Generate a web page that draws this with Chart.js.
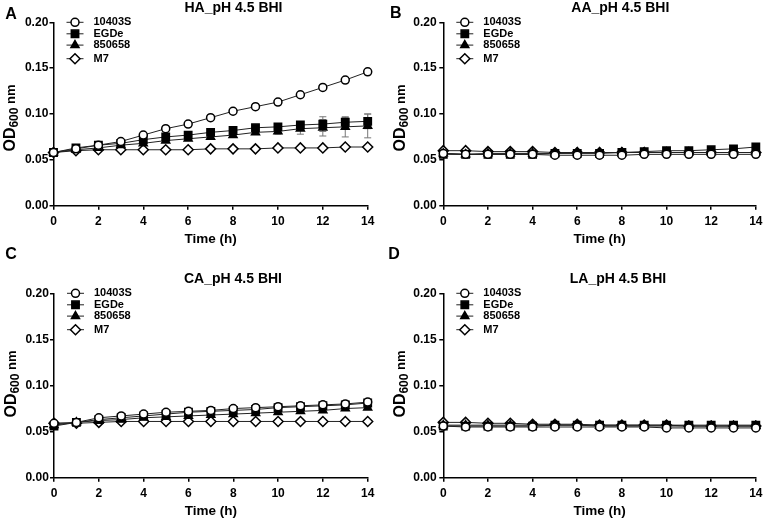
<!DOCTYPE html>
<html><head><meta charset="utf-8">
<script src="https://cdn.jsdelivr.net/npm/chart.js@4.4.1/dist/chart.umd.min.js"></script>
<style>
html,body{margin:0;padding:0;background:#fff;}
#wrap{position:relative;width:767px;height:520px;overflow:hidden;background:#fff;}
canvas{position:absolute;}
</style></head><body><div id="wrap">
<canvas id="cA"></canvas><canvas id="cB"></canvas><canvas id="cC"></canvas><canvas id="cD"></canvas>
</div>
<script>
// ---------- data ----------
const hours = [0,1,2,3,4,5,6,7,8,9,10,11,12,13,14];
const seriesNames = ['10403S','EGDe','850658','M7'];
const panelTitles = ['HA_pH 4.5 BHI','AA_pH 4.5 BHI','CA_pH 4.5 BHI','LA_pH 4.5 BHI'];
const panelLetters = ['A','B','C','D'];
const xTitle = 'Time (h)';

const HA_10403S = [0.058,0.062,0.066,0.070,0.077,0.084,0.089,0.096,0.103,0.108,0.113,0.121,0.129,0.137,0.146];
const HA_EGDe   = [0.058,0.063,0.066,0.068,0.072,0.075,0.077,0.080,0.082,0.085,0.086,0.088,0.089,0.091,0.092];
const HA_850658 = [0.058,0.061,0.063,0.066,0.068,0.071,0.073,0.075,0.077,0.080,0.081,0.084,0.085,0.086,0.087];
const HA_M7     = [0.058,0.060,0.061,0.061,0.061,0.061,0.061,0.062,0.062,0.062,0.063,0.063,0.063,0.064,0.064];
const HA_EGDe_err   = [0,0,0,0,0.001,0.001,0.001,0.001,0.002,0.002,0.002,0.003,0.008,0.005,0.008];
const HA_850658_err = [0,0,0,0,0.001,0.001,0.001,0.002,0.002,0.002,0.003,0.006,0.009,0.011,0.013];

const AA_10403S = [0.057,0.056,0.056,0.056,0.056,0.055,0.055,0.055,0.055,0.056,0.056,0.056,0.056,0.056,0.056];
const AA_EGDe   = [0.056,0.056,0.056,0.056,0.056,0.057,0.057,0.057,0.058,0.059,0.060,0.060,0.061,0.062,0.064];
const AA_850658 = [0.057,0.056,0.057,0.057,0.057,0.057,0.058,0.058,0.058,0.058,0.058,0.058,0.058,0.058,0.058];
const AA_M7     = [0.060,0.060,0.059,0.059,0.059,0.058,0.058,0.058,0.058,0.058,0.058,0.058,0.058,0.058,0.058];

const CA_10403S = [0.059,0.060,0.065,0.067,0.069,0.071,0.072,0.073,0.075,0.076,0.077,0.078,0.079,0.080,0.082];
const CA_EGDe   = [0.056,0.060,0.063,0.065,0.067,0.069,0.071,0.072,0.073,0.074,0.076,0.077,0.078,0.079,0.081];
const CA_850658 = [0.057,0.060,0.062,0.063,0.065,0.066,0.067,0.068,0.069,0.070,0.071,0.072,0.073,0.075,0.076];
const CA_M7     = [0.059,0.059,0.060,0.061,0.061,0.061,0.061,0.061,0.061,0.061,0.061,0.061,0.061,0.061,0.061];

const LA_10403S = [0.056,0.055,0.055,0.055,0.055,0.055,0.055,0.055,0.055,0.055,0.054,0.054,0.054,0.054,0.054];
const LA_EGDe   = [0.056,0.056,0.056,0.056,0.056,0.057,0.057,0.057,0.057,0.057,0.057,0.057,0.057,0.057,0.057];
const LA_850658 = [0.057,0.057,0.057,0.057,0.057,0.057,0.057,0.056,0.056,0.056,0.056,0.056,0.056,0.056,0.056];
const LA_M7     = [0.060,0.060,0.059,0.059,0.058,0.058,0.058,0.057,0.057,0.057,0.057,0.056,0.056,0.056,0.056];

const ZERO_ERR = hours.map(() => 0);

// ---------- styling / layout ----------
const FONT = '"Liberation Sans", Arial, Helvetica, sans-serif';
Chart.defaults.font.family = FONT;
Chart.defaults.color = '#000';

const markerStyles = [
  {pointStyle:'circle',   radius:4,   fill:'#fff'},
  {pointStyle:'rect',     radius:5.2, fill:'#000'},
  {pointStyle:'triangle', radius:4.6, fill:'#000'},
  {pointStyle:'rectRot',  radius:5,   fill:'#fff'}
];
const legendOffsets = [0, 11.5, 22.8, 36.4];

const layouts = [
  {id:'cA', cx:0,   cy:0,   cw:384, ch:260, L:53.5,  R:367.7, T:22.3,  B:205.7, titleX:233.5, letterX:11,    letterY:14.5,  yTitleOff:4,    tickPad:1.2},
  {id:'cB', cx:384, cy:0,   cw:383, ch:260, L:443.3, R:756.7, T:22.3,  B:205.7, titleX:620.3, letterX:395.7, letterY:13.5,  yTitleOff:4,    tickPad:2.6},
  {id:'cC', cx:0,   cy:240, cw:384, ch:280, L:54,    R:367.7, T:293.3, B:477.7, titleX:233,   letterX:11,    letterY:254.5, yTitleOff:-1.5, tickPad:1.2},
  {id:'cD', cx:384, cy:240, cw:383, ch:280, L:443.3, R:756.7, T:293.3, B:477.7, titleX:618,   letterX:394,   letterY:255,   yTitleOff:-1.5, tickPad:2.6}
];
const panelData = [
  {vals:[HA_10403S,HA_EGDe,HA_850658,HA_M7], errs:[ZERO_ERR,HA_EGDe_err,HA_850658_err,ZERO_ERR]},
  {vals:[AA_10403S,AA_EGDe,AA_850658,AA_M7], errs:[ZERO_ERR,ZERO_ERR,ZERO_ERR,ZERO_ERR]},
  {vals:[CA_10403S,CA_EGDe,CA_850658,CA_M7], errs:[ZERO_ERR,ZERO_ERR,ZERO_ERR,ZERO_ERR]},
  {vals:[LA_10403S,LA_EGDe,LA_850658,LA_M7], errs:[ZERO_ERR,ZERO_ERR,ZERO_ERR,ZERO_ERR]}
];

const X_AXIS_H = 40.5;

function drawMarker(ctx, style, x, y) {
  const r = style.radius;
  ctx.save();
  ctx.fillStyle = style.fill;
  ctx.strokeStyle = '#000';
  ctx.lineWidth = 1.5;
  ctx.beginPath();
  if (style.pointStyle === 'circle') {
    ctx.arc(x, y, r, 0, Math.PI * 2);
  } else if (style.pointStyle === 'rect') {
    const s = r * Math.SQRT1_2;
    ctx.rect(x - s, y - s, 2 * s, 2 * s);
  } else if (style.pointStyle === 'triangle') {
    for (let k = 0; k < 3; k++) {
      const a = -Math.PI / 2 + k * 2 * Math.PI / 3;
      const px = x + Math.cos(a) * r, py = y + Math.sin(a) * r;
      if (k === 0) ctx.moveTo(px, py); else ctx.lineTo(px, py);
    }
    ctx.closePath();
  } else {
    ctx.moveTo(x, y - r); ctx.lineTo(x + r, y); ctx.lineTo(x, y + r); ctx.lineTo(x - r, y); ctx.closePath();
  }
  ctx.fill();
  ctx.stroke();
  ctx.restore();
}

const errorBarPlugin = {
  id: 'errorBars',
  beforeDatasetsDraw(chart) {
    const ctx = chart.ctx, xs = chart.scales.x, ys = chart.scales.y;
    ctx.save();
    ctx.strokeStyle = '#777';
    ctx.lineWidth = 1;
    chart.data.datasets.forEach(ds => {
      (ds.errorBars || []).forEach((e, i) => {
        if (!e) return;
        const pt = ds.data[i];
        const px = xs.getPixelForValue(pt.x);
        const y1 = ys.getPixelForValue(pt.y + e), y2 = ys.getPixelForValue(pt.y - e);
        ctx.beginPath();
        ctx.moveTo(px, y1); ctx.lineTo(px, y2);
        ctx.moveTo(px - 3.5, y1); ctx.lineTo(px + 3.5, y1);
        ctx.moveTo(px - 3.5, y2); ctx.lineTo(px + 3.5, y2);
        ctx.stroke();
      });
    });
    ctx.restore();
  }
};

const annotPlugin = {
  id: 'annot',
  afterDraw(chart, args, opts) {
    const ctx = chart.ctx, ca = chart.chartArea;
    const lay = opts.layout;
    ctx.save();
    ctx.fillStyle = '#000';
    // panel letter
    ctx.font = 'bold 16px ' + FONT;
    ctx.textAlign = 'center';
    ctx.textBaseline = 'middle';
    ctx.fillText(opts.letter, lay.letterX - lay.cx, lay.letterY - lay.cy);
    // title
    ctx.font = 'bold 14px ' + FONT;
    ctx.fillText(opts.title, lay.titleX - lay.cx, ca.top - 14.2);
    // y axis title: OD600 nm (rotated, subscript)
    const parts = [
      {t:'OD', f:'bold 16px ' + FONT, dy:0},
      {t:'600', f:'bold 12px ' + FONT, dy:3},
      {t:' nm', f:'bold 13px ' + FONT, dy:0}
    ];
    let total = 0;
    parts.forEach(p => { ctx.font = p.f; p.w = ctx.measureText(p.t).width; total += p.w; });
    ctx.translate(ca.left - 38.3, (ca.top + ca.bottom) / 2 + lay.yTitleOff);
    ctx.rotate(-Math.PI / 2);
    ctx.textAlign = 'left';
    ctx.textBaseline = 'alphabetic';
    let xpos = -total / 2;
    parts.forEach(p => { ctx.font = p.f; ctx.fillText(p.t, xpos, p.dy); xpos += p.w; });
    ctx.restore();

    // legend
    ctx.save();
    chart.data.datasets.forEach((ds, i) => {
      const y = ca.top + legendOffsets[i];
      ctx.strokeStyle = '#222';
      ctx.lineWidth = 1;
      ctx.beginPath();
      ctx.moveTo(ca.left + 13, y); ctx.lineTo(ca.left + 30, y);
      ctx.stroke();
      drawMarker(ctx, markerStyles[i], ca.left + 21.5, y);
      ctx.fillStyle = '#000';
      ctx.font = 'bold 11px ' + FONT;
      ctx.textAlign = 'left';
      ctx.textBaseline = 'middle';
      ctx.fillText(ds.label, ca.left + 40, y);
    });
    ctx.restore();
  }
};

layouts.forEach((lay, p) => {
  const cv = document.getElementById(lay.id);
  cv.width = lay.cw; cv.height = lay.ch;
  cv.style.left = lay.cx + 'px'; cv.style.top = lay.cy + 'px';
  cv.style.width = lay.cw + 'px'; cv.style.height = lay.ch + 'px';

  const pd = panelData[p];
  const datasets = seriesNames.map((name, i) => ({
    label: name,
    data: hours.map((h, k) => ({x: h, y: pd.vals[i][k]})),
    errorBars: pd.errs[i],
    borderColor: '#222',
    borderWidth: 1,
    pointStyle: markerStyles[i].pointStyle,
    pointRadius: markerStyles[i].radius,
    pointBackgroundColor: markerStyles[i].fill,
    pointBorderColor: '#000',
    pointBorderWidth: 1.5,
    tension: 0,
    clip: false,
    fill: false
  }));

  const yW = lay.L - lay.cx;
  new Chart(cv, {
    type: 'line',
    data: {datasets},
    options: {
      responsive: false,
      animation: false,
      devicePixelRatio: 1,
      layout: {padding: {left: 0, top: lay.T - lay.cy, right: lay.cx + lay.cw - lay.R, bottom: (lay.cy + lay.ch) - lay.B - X_AXIS_H}},
      plugins: {
        legend: {display: false},
        tooltip: {enabled: false},
        title: {display: false},
        annot: {letter: panelLetters[p], title: panelTitles[p], layout: lay}
      },
      scales: {
        x: {
          type: 'linear', min: 0, max: 14,
          afterFit: s => { s.height = X_AXIS_H; },
          ticks: {stepSize: 2, padding: 4.5, font: {size: 12, weight: 'bold'}, color: '#000', maxRotation: 0},
          grid: {display: true, drawOnChartArea: false, drawTicks: true, tickLength: 4, color: '#000', lineWidth: 1.5},
          border: {display: true, color: '#000', width: 1.5},
          title: {display: true, text: xTitle, font: {size: 13.5, weight: 'bold', lineHeight: 1}, padding: 0, color: '#000'}
        },
        y: {
          type: 'linear', min: 0, max: 0.2,
          afterFit: s => { s.width = yW; },
          ticks: {stepSize: 0.05, padding: lay.tickPad, font: {size: 12, weight: 'bold'}, color: '#000', callback: v => v.toFixed(2)},
          grid: {display: true, drawOnChartArea: false, drawTicks: true, tickLength: 4, color: '#000', lineWidth: 1.5},
          border: {display: true, color: '#000', width: 1.5}
        }
      }
    },
    plugins: [errorBarPlugin, annotPlugin]
  });
});
</script>
</body></html>
